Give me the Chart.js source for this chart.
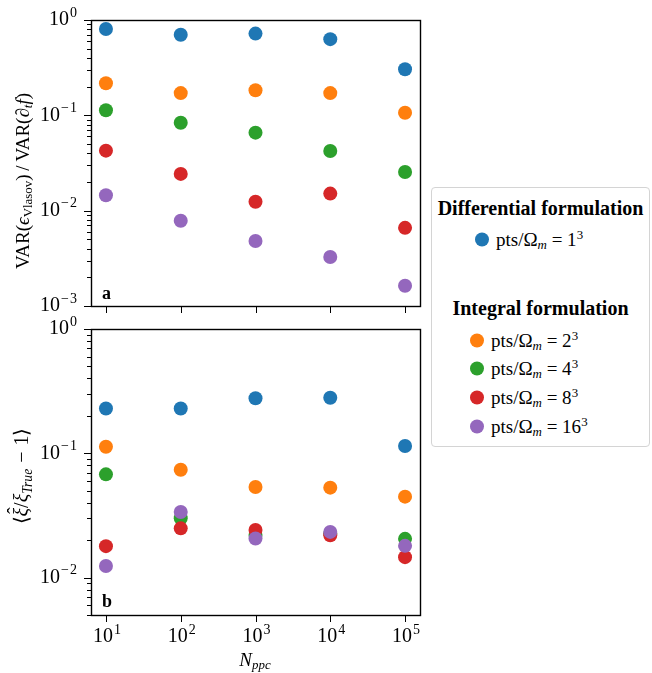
<!DOCTYPE html>
<html>
<head>
<meta charset="utf-8">
<script src="https://cdn.jsdelivr.net/npm/chart.js@4.4.1/dist/chart.umd.min.js"></script>
<style>
  html, body { margin: 0; padding: 0; background: #fff; }
  #wrap { position: relative; width: 652px; height: 673px; overflow: hidden; font-family: "Liberation Serif", serif; color: #000; }
  canvas { position: absolute; left: 0; }
  .lbl { position: absolute; white-space: nowrap; font-size: 19px; line-height: 1; }
  .rot { transform: translate(-50%, -50%) rotate(-90deg); }
  .ctr { transform: translate(-50%, -50%); }
  .it { font-style: italic; }
  .sp { display: inline-block; width: 0.3em; }
  sub { font-size: 0.68em; vertical-align: -0.3em; line-height: 0; }
  sup { font-size: 0.68em; vertical-align: 0.5em; line-height: 0; }
  .hat { position: relative; display: inline-block; font-style: italic; }
  .hat::after { content: '\02C6'; position: absolute; left: 0.12em; top: -0.32em; font-style: normal; }
  .panel { position: absolute; font-weight: bold; font-size: 18px; line-height: 1; }
  #legend { position: absolute; left: 431px; top: 187px; width: 219px; height: 260px; border: 1px solid #d4d4d4; border-radius: 4px; background: #fff; box-sizing: border-box; }
  .ltitle { position: absolute; left: 0; width: 100%; text-align: center; font-weight: bold; font-size: 20px; line-height: 1; transform: translateY(-50%); }
  .lentry { position: absolute; font-size: 19px; line-height: 1; white-space: nowrap; transform: translateY(-50%); }
  .dot { display: inline-block; width: 14px; height: 14px; border-radius: 50%; vertical-align: -1px; margin-right: 7px; }
</style>
</head>
<body>
<div id="wrap">
  <canvas id="topChart" width="430" height="320" style="top:0"></canvas>
  <canvas id="bottomChart" width="430" height="373" style="top:300px"></canvas>

  <div class="lbl rot" style="left:22px; top:181px;">VAR(<span class="it">ϵ</span><sub>Vlasov</sub>)&thinsp;/&thinsp;VAR(<span class="it">∂<sub>t</sub>f</span>)</div>
  <div class="lbl rot" style="left:21px; top:476px; font-size:20px;">⟨<span class="hat">ξ</span>/<span class="it">ξ</span><sub class="it">True</sub><span class="sp"></span>−<span class="sp"></span>1⟩</div>
  <div class="lbl ctr" style="left:255px; top:659px;"><span class="it">N</span><sub class="it">ppc</sub></div>

  <div class="panel" style="left:102px; top:284px;">a</div>
  <div class="panel" style="left:102px; top:592px;">b</div>

  <div id="legend"></div>
</div>
<script>
// x positions: particles per cell
const nppc = [1e1, 1e2, 1e3, 1e4, 1e5];

// resolution labels (pts per Omega_m = n^3)
const resolutions = [1, 2, 4, 8, 16];
const colors = ['#1f77b4', '#ff7f0e', '#2ca02c', '#d62728', '#9467bd'];

// panel a: VAR(eps_Vlasov)/VAR(d_t f)
const varPts1  = [0.805, 0.70, 0.72, 0.63, 0.304];
const varPts2  = [0.217, 0.171, 0.183, 0.171, 0.1066];
const varPts4  = [0.113, 0.0837, 0.0658, 0.0422, 0.0254];
const varPts8  = [0.0426, 0.0243, 0.0124, 0.0151, 0.0066];
const varPts16 = [0.0145, 0.00785, 0.0048, 0.00327, 0.00163];

// panel b: <xi_hat/xi_True - 1>
const xiPts1  = [0.229, 0.229, 0.277, 0.280, 0.1146];
const xiPts2  = [0.113, 0.0738, 0.0536, 0.0529, 0.0448];
const xiPts4  = [0.0677, 0.030, 0.0220, 0.0225, 0.0205];
const xiPts8  = [0.0179, 0.0249, 0.0242, 0.0219, 0.0146];
const xiPts16 = [0.0124, 0.0337, 0.0206, 0.0233, 0.0180];

// axis ticks
const xTicks = [1e1, 1e2, 1e3, 1e4, 1e5];
const topDecades = [1e-3, 1e-2, 1e-1, 1];
const bottomDecades = [1e-2, 1e-1, 1];

function logTicks(decades, min, max) {
  const out = [];
  decades.forEach(d => {
    for (let k = 1; k < 10; k++) {
      const v = d * k;
      if (v >= min * 0.999 && v <= max * 1.001) out.push(v);
    }
  });
  // lower partial decade
  const first = decades[0] / 10;
  for (let k = 1; k < 10; k++) {
    const v = first * k;
    if (v >= min * 0.999 && v < decades[0]) out.push(v);
  }
  return out;
}

const isDecade = v => Math.abs(Math.log10(v) - Math.round(Math.log10(v))) < 1e-6;

const BASE_FONT = '20px "Liberation Serif", serif';
const EXP_FONT = '14px "Liberation Serif", serif';

function drawPower(ctx, exp, x, y, align) {
  const base = '10';
  const sup = exp < 0 ? '\u2212\u200A' + Math.abs(exp) : String(exp);
  ctx.font = BASE_FONT;
  const wb = ctx.measureText(base).width;
  ctx.font = EXP_FONT;
  const we = ctx.measureText(sup).width;
  const total = wb + we + 1;
  const x0 = align === 'right' ? x - total : x - total / 2;
  ctx.textAlign = 'left';
  ctx.textBaseline = 'middle';
  ctx.font = BASE_FONT;
  ctx.fillText(base, x0, y);
  ctx.font = EXP_FONT;
  ctx.fillText(sup, x0 + wb + 1, y - 7);
}

const axesFrame = {
  id: 'axesFrame',
  afterDraw(chart, args, opts) {
    const { ctx, chartArea: a, scales } = chart;
    ctx.save();
    ctx.fillStyle = '#000';
    ctx.strokeStyle = '#000';
    ctx.lineWidth = 1;
    ctx.beginPath();
    scales.y.ticks.forEach(t => {
      const y = Math.round(scales.y.getPixelForValue(t.value)) + 0.5;
      const len = isDecade(t.value) ? 7 : 4;
      ctx.moveTo(a.left - len, y);
      ctx.lineTo(a.left, y);
    });
    scales.x.ticks.forEach(t => {
      const x = Math.round(scales.x.getPixelForValue(t.value)) + 0.5;
      ctx.moveTo(x, a.bottom);
      ctx.lineTo(x, a.bottom + 7);
    });
    ctx.stroke();
    scales.y.ticks.forEach(t => {
      if (!isDecade(t.value)) return;
      const y = scales.y.getPixelForValue(t.value);
      drawPower(ctx, Math.round(Math.log10(t.value)), a.left - 14, y, 'right');
    });
    if (opts.xLabels) {
      scales.x.ticks.forEach(t => {
        const x = scales.x.getPixelForValue(t.value);
        drawPower(ctx, Math.round(Math.log10(t.value)), x + 1, a.bottom + 22, 'center');
      });
    }
    ctx.lineWidth = 1.4;
    ctx.strokeRect(Math.round(a.left) + 0.5, Math.round(a.top) + 0.5,
      Math.round(a.right - a.left), Math.round(a.bottom - a.top));
    ctx.restore();
  }
};

function makeDatasets(seriesList) {
  return seriesList.map((vals, i) => ({
    label: 'pts/\u03A9m = ' + resolutions[i] + '^3',
    data: nppc.map((x, j) => ({ x: x, y: vals[j] })),
    backgroundColor: colors[i],
    borderColor: colors[i],
    pointRadius: 7,
    pointHoverRadius: 7,
    pointBorderWidth: 0,
    showLine: false,
    order: seriesList.length - i,
  }));
}

function makeChart(id, seriesList, yMin, yMax, decades, padTop, xHeight, xLabels) {
  const ctx = document.getElementById(id).getContext('2d');
  return new Chart(ctx, {
    type: 'scatter',
    data: { datasets: makeDatasets(seriesList) },
    options: {
      responsive: false,
      animation: false,
      events: [],
      layout: { autoPadding: false, padding: { top: padTop, right: 10, left: 0, bottom: 0 } },
      plugins: {
        legend: { display: false },
        tooltip: { enabled: false },
        axesFrame: { xLabels: xLabels },
      },
      scales: {
        x: {
          type: 'logarithmic',
          min: Math.pow(10, 0.8),
          max: Math.pow(10, 5.2),
          grid: { display: false },
          border: { display: false },
          ticks: { display: false },
          afterBuildTicks: s => { s.ticks = xTicks.map(v => ({ value: v })); },
          afterFit: s => { s.height = xHeight; },
        },
        y: {
          type: 'logarithmic',
          min: yMin,
          max: yMax,
          grid: { display: false },
          border: { display: false },
          ticks: { display: false },
          afterBuildTicks: s => { s.ticks = logTicks(decades, yMin, yMax).map(v => ({ value: v })); },
          afterFit: s => { s.width = 91; },
        },
      },
    },
    plugins: [axesFrame],
  });
}

makeChart('topChart', [varPts1, varPts2, varPts4, varPts8, varPts16], 1e-3, 1, topDecades, 20, 14, false);
makeChart('bottomChart', [xiPts1, xiPts2, xiPts4, xiPts8, xiPts16], 0.005, 1, bottomDecades, 29, 58, true);

// legend built from the series arrays
const legend = document.getElementById('legend');
const groups = [
  { title: 'Differential formulation', titleY: 20, members: [0], entryY: [51], entryX: 43 },
  { title: 'Integral formulation', titleY: 120, members: [1, 2, 3, 4], entryY: [152, 180, 209, 238], entryX: 38 },
];
groups.forEach(g => {
  const t = document.createElement('div');
  t.className = 'ltitle';
  t.style.top = g.titleY + 'px';
  t.textContent = g.title;
  legend.appendChild(t);
  g.members.forEach((m, k) => {
    const e = document.createElement('div');
    e.className = 'lentry';
    e.style.top = g.entryY[k] + 'px';
    e.style.left = g.entryX + 'px';
    e.innerHTML = '<span class="dot" style="background:' + colors[m] + '"></span>pts/\u03A9<sub class="it">m</sub>&nbsp;=&nbsp;' +
      resolutions[m] + '<sup>3</sup>';
    legend.appendChild(e);
  });
});
</script>
</body>
</html>
